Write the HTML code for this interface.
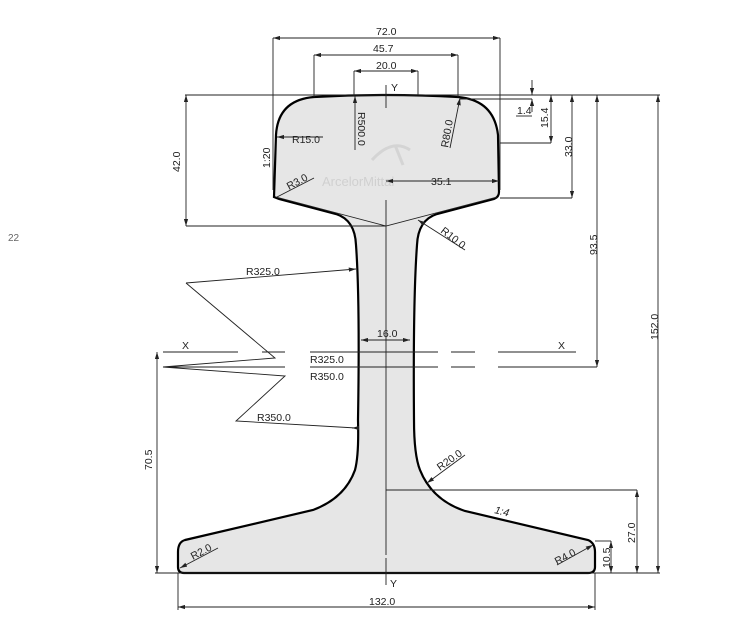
<!DOCTYPE html>
<html><head><meta charset="utf-8"><style>
html,body{margin:0;padding:0;background:#fff;}
svg{display:block;}
text{font-family:"Liberation Sans",sans-serif;font-size:10.5px;fill:#222;}
</style></head><body>
<svg width="731" height="625" viewBox="0 0 731 625" xmlns="http://www.w3.org/2000/svg">
<defs>
<marker id="a" viewBox="0 0 10 6" refX="10" refY="3" markerWidth="8" markerHeight="5" orient="auto-start-reverse"><path d="M0,0 L10,3 L0,6 z" fill="#222"/></marker>
</defs>
<text x="8" y="241" style="font-size:10px;fill:#666">22</text>
<path d="M274,197 L276,135 Q278,100 314,97 Q386,93 458,97 Q494,100 498,135 L499,192 Q499,197 494,199 L437,214 Q418,220 417,245 Q413,300 414,420 Q414,455 420,470 Q432,500 465,511 L588,540 Q595,543 595,552 L595,567 Q595,573 588,573 L184,573 Q178,573 178,567 L178,552 Q178,542 185,540 L313,510 Q345,498 355,470 Q359,455 358,420 Q360,300 356,245 Q355,220 336,214 L279,199 Q274,197 274,197 Z" fill="#e6e6e6" stroke="#000" stroke-width="2.2"/>
<text x="322" y="186" style="font-size:13px;fill:#d0d0d0">ArcelorMittal</text>
<path d="M372,160 Q392,138 410,150" stroke="#d4d4d4" stroke-width="3" fill="none"/>
<path d="M395,145 L403,165" stroke="#d4d4d4" stroke-width="3" fill="none"/>
<g stroke="#222" stroke-width="0.9" fill="none">
<path d="M276,197 L386,226 L497,197"/>
<path d="M386,85 L386,108 M386,200 L386,555 M386,558 L386,585"/>
<path d="M273,38 L273,190 M500,38 L500,190"/>
<path d="M273,38 L500,38" marker-start="url(#a)" marker-end="url(#a)"/>
<path d="M314,55 L314,97 M458,55 L458,97"/>
<path d="M314,55 L458,55" marker-start="url(#a)" marker-end="url(#a)"/>
<path d="M354,71 L354,96 M418,71 L418,95"/>
<path d="M354,71 L418,71" marker-start="url(#a)" marker-end="url(#a)"/>
<path d="M185,95 L660,95"/>
<path d="M186,95 L186,226" marker-start="url(#a)" marker-end="url(#a)"/>
<path d="M186,226 L386,226"/>
<path d="M460,99 L532,99"/>
<path d="M532,80 L532,95" marker-end="url(#a)"/>
<path d="M532,112 L532,99" marker-end="url(#a)"/>
<path d="M516,116 L532,116"/>
<path d="M500,143 L551,143"/>
<path d="M551,95 L551,143" marker-start="url(#a)" marker-end="url(#a)"/>
<path d="M500,198 L572,198"/>
<path d="M572,95 L572,198" marker-start="url(#a)" marker-end="url(#a)"/>
<path d="M597,95 L597,367" marker-start="url(#a)" marker-end="url(#a)"/>
<path d="M658,95 L658,573" marker-start="url(#a)" marker-end="url(#a)"/>
<path d="M386,181 L499,181" marker-start="url(#a)" marker-end="url(#a)"/>
<path d="M355,96 L355,150" marker-start="url(#a)"/>
<path d="M460,98 L450,148" marker-start="url(#a)"/>
<path d="M277,137 L323,137" marker-start="url(#a)"/>
<path d="M277,197 L314,178"/>
<path d="M418,220 L465,250" marker-start="url(#a)"/>
<path d="M361,340 L410,340" marker-start="url(#a)" marker-end="url(#a)"/>
<path d="M163,352 L238,352 M262,352 L285,352 M310,352 L438,352 M451,352 L475,352 M498,352 L576,352" />
<path d="M163,367 L285,367 M310,367 L438,367 M451,367 L475,367 M498,367 L597,367" />
<path d="M157,352 L157,573" marker-start="url(#a)" marker-end="url(#a)"/>
<path d="M155,573 L660,573"/>
<path d="M186,283 L356,269" marker-end="url(#a)"/>
<path d="M186,283 L275,358 L163,367 L285,376 L236,421 L356,428" />
<path d="M356,428 L352,428" marker-end="url(#a)"/>
<path d="M386,490 L637,490"/>
<path d="M637,490 L637,573" marker-start="url(#a)" marker-end="url(#a)"/>
<path d="M595,541 L611,541"/>
<path d="M611,541 L611,573" marker-start="url(#a)" marker-end="url(#a)"/>
<path d="M178,573 L178,610 M595,573 L595,610"/>
<path d="M178,607 L595,607" marker-start="url(#a)" marker-end="url(#a)"/>
<path d="M427,483 L465,455" marker-start="url(#a)"/>
<path d="M180,568 L218,548" marker-start="url(#a)"/>
<path d="M593,545 L557,565" marker-start="url(#a)"/>
</g>
<text x="376" y="35">72.0</text>
<text x="373" y="52">45.7</text>
<text x="376" y="69">20.0</text>
<text x="391" y="91">Y</text>
<text x="292" y="143">R15.0</text>
<text x="431" y="185">35.1</text>
<text x="517" y="114">1.4</text>
<g transform="translate(180,172) rotate(-90)"><text>42.0</text></g>
<g transform="translate(270,168) rotate(-90)"><text>1:20</text></g>
<g transform="translate(358,112) rotate(90)"><text>R500.0</text></g>
<g transform="translate(448,148) rotate(-80)"><text>R80.0</text></g>
<g transform="translate(289,190) rotate(-28)"><text>R3.0</text></g>
<g transform="translate(548,128) rotate(-90)"><text>15.4</text></g>
<g transform="translate(572,157) rotate(-90)"><text>33.0</text></g>
<g transform="translate(597,255) rotate(-90)"><text>93.5</text></g>
<g transform="translate(658,340) rotate(-90)"><text>152.0</text></g>
<g transform="translate(440,232) rotate(38)"><text>R10.0</text></g>
<text x="246" y="275">R325.0</text>
<text x="377" y="337">16.0</text>
<text x="182" y="349">X</text>
<text x="558" y="349">X</text>
<text x="310" y="363">R325.0</text>
<text x="310" y="380">R350.0</text>
<text x="257" y="421">R350.0</text>
<g transform="translate(152,470) rotate(-90)"><text>70.5</text></g>
<g transform="translate(440,471) rotate(-35)"><text>R20.0</text></g>
<g transform="translate(494,513) rotate(14)"><text style="font-style:italic">1:4</text></g>
<g transform="translate(193,560) rotate(-28)"><text>R2.0</text></g>
<g transform="translate(557,565) rotate(-28)"><text>R4.0</text></g>
<g transform="translate(635,543) rotate(-90)"><text>27.0</text></g>
<g transform="translate(610,568) rotate(-90)"><text>10.5</text></g>
<text x="390" y="587">Y</text>
<text x="369" y="605">132.0</text>
</svg>
</body></html>
